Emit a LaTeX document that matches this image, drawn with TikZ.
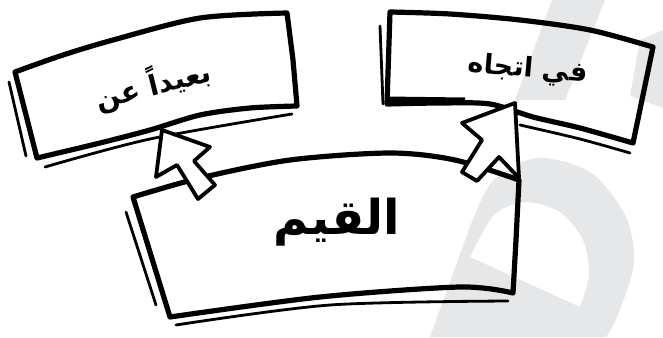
\documentclass[tikz,border=0pt]{standalone}
\usepackage{fontspec}
\newfontfamily\arabicfont[Script=Arabic]{DejaVu Sans}
\TeXXeTstate=1
\usetikzlibrary{calc}
\definecolor{wmgray}{HTML}{E6E7E8}

\tikzset{
  sketch/.style={line width=5.2pt, line join=round, line cap=round},
  rough/.style={line width=2.8pt, line cap=round},
  cursor/.style={line width=3.8pt, line join=round, fill=white},
  boxtext/.style={font=\arabicfont\bfseries\fontsize{28}{32}\selectfont, inner sep=0pt},
}

\begin{document}
\begin{tikzpicture}[x=1pt,y=-1pt]
\useasboundingbox (0,0) rectangle (663,337);

% ---- Watermark ----
\fill[wmgray,even odd rule]
  (430,337) -- plot[smooth] coordinates {(468,232) (492,182) (537,158) (590,172) (625,215) (634,262) (618,315) (606,337)} -- cycle
  (470,257) -- (580,307) -- plot[smooth] coordinates {(580,307) (589,275) (583,240) (560,212) (525,202) (494,215) (470,257)} -- cycle;
\fill[wmgray] (552,0) -- (605,0) -- (565,100) -- (515,100) -- cycle;
\fill[wmgray] (663,30) -- (663,108) -- (630,96) -- (640,40) -- cycle;

% ---- Box 1: away from ----
\draw[sketch] plot[smooth] coordinates {(15,72) (60,56) (113,40) (200,18) (287,13)}
  -- (293,60) -- (297,106)
  -- plot[smooth] coordinates {(297,106) (250,108) (200,115) (150,130) (100,143) (37,158)}
  -- cycle;
\draw[rough] (9,82) -- (26,156);
\draw[rough] plot[smooth] coordinates {(45,167) (150,139) (292,114)};
\node[boxtext,rotate=14] (away) at (153,84) {\beginR بعيداً عن\endR};

% ---- Box 2: towards ----
\draw[sketch] plot[smooth] coordinates {(390,12) (450,14) (520,20) (590,30) (653,47)}
  -- (643,95) -- (633,143)
  -- plot[smooth] coordinates {(633,143) (580,128) (533,117) (490,104) (440,103) (387,104)}
  -- cycle;
\draw[rough] (380,26) -- (383,104);
\draw[line width=7pt] (386,100) -- (465,101);
\draw[rough] plot[smooth] coordinates {(520,125) (580,139) (630,153)};
\node[boxtext,font=\arabicfont\bfseries\fontsize{27}{31}\selectfont,rotate=-5] (towards) at (528,70) {\beginR في اتجاه\endR};

% ---- Box 3: values ----
\draw[sketch] plot[smooth] coordinates {(133,197) (200,178) (290,160) (390,153) (455,160) (519,180)}
  -- (516,240) -- (513,293)
  -- plot[smooth] coordinates {(513,293) (460,287) (320,297) (170,317)}
  -- cycle;
\draw[rough] (126,212) -- (156,305);
\draw[rough] plot[smooth] coordinates {(176,325) (330,305) (508,301)};
\node[boxtext,font=\arabicfont\bfseries\fontsize{48}{54}\selectfont] (values) at (337,222) {\beginR القيم\endR};

% ---- Cursor arrows ----
\coordinate (awaytip) at (162,130);
\coordinate (towardstip) at (515,103);
\draw[cursor] (awaytip) -- (210,147) -- (194,161) -- (215,185) -- (198,199)
  -- (177,165) -- (156,177) -- cycle;
\draw[cursor] (towardstip) -- (519,178) -- (499,157) -- (477,181) -- (462,172)
  -- (482,140) -- (462,123) -- cycle;

\end{tikzpicture}
\end{document}
